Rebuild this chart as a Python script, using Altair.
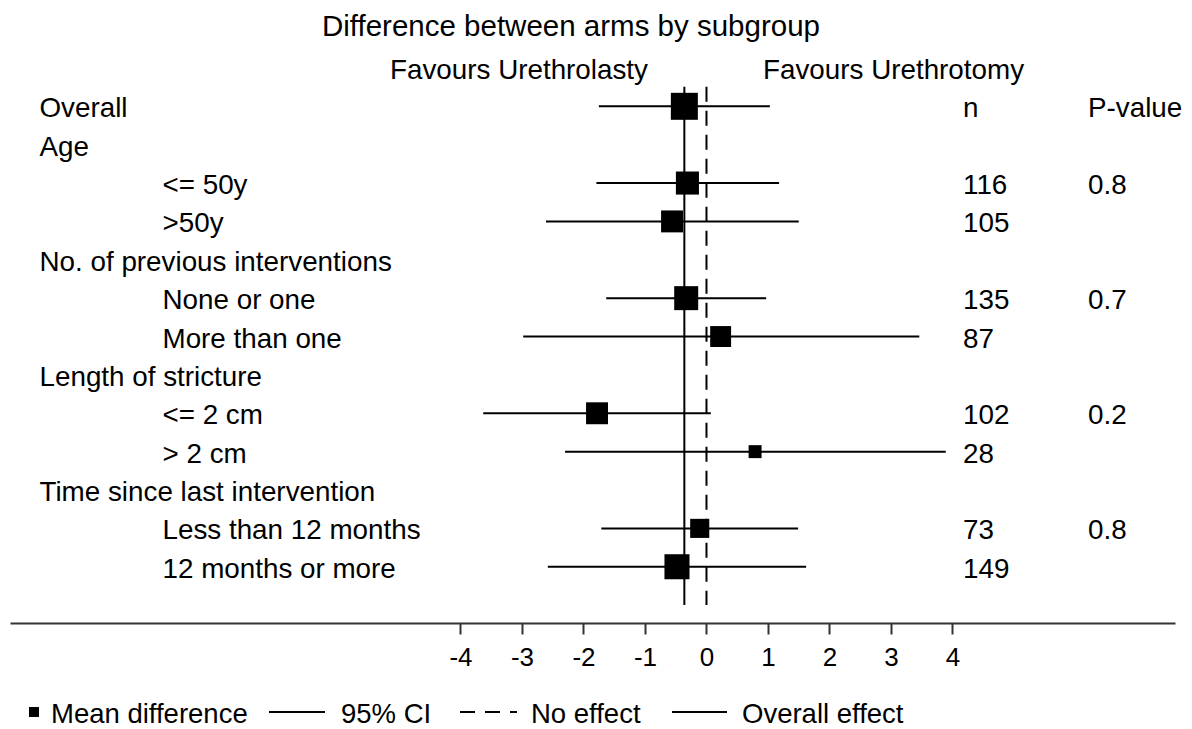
import altair as alt
import pandas as pd

# ---------------- data ----------------
labels = ["Overall", "Age", "<= 50y", ">50y", "No. of previous interventions",
          "None or one", "More than one", "Length of stricture", "<= 2 cm", "> 2 cm",
          "Time since last intervention", "Less than 12 months", "12 months or more"]
level = [0, 0, 1, 1, 0, 1, 1, 0, 1, 1, 0, 1, 1]
est = [-0.36, None, -0.31, -0.56, None, -0.33, 0.23, None, -1.78, 0.79, None, -0.11, -0.48]
lo = [-1.75, None, -1.79, -2.61, None, -1.63, -2.98, None, -3.63, -2.30, None, -1.71, -2.58]
hi = [1.03, None, 1.18, 1.50, None, 0.97, 3.46, None, 0.07, 3.89, None, 1.49, 1.62]
weight = [100, None, 73, 66, None, 79, 60, None, 66, 23, None, 50, 86]
n_col = ["n", "", "116", "105", "", "135", "87", "", "102", "28", "", "73", "149"]
p_col = ["P-value", "", "0.8", "", "", "0.7", "", "", "0.2", "", "", "0.8", ""]
overall_effect = [-0.36]
no_effect = [0]
x_ticks = [-4, -3, -2, -1, 0, 1, 2, 3, 4]
title_text = "Difference between arms by subgroup"
favours_left = "Favours Urethrolasty"
favours_right = "Favours Urethrotomy"
legend_items = ["Mean difference", "95% CI", "No effect", "Overall effect"]

df = pd.DataFrame({
    "row": list(range(len(labels))),
    "label": labels, "level": level, "est": est, "lo": lo, "hi": hi,
    "weight": weight, "n": n_col, "p": p_col,
})

FONT = "Liberation Sans"
FS = 27.8
W, H = 1165, 615

xscale = alt.Scale(domain=[-11.325, 7.618], nice=False, zero=False)
yscale = alt.Scale(domain=[-2.562, 13.466], nice=False, zero=False, reverse=True)
xaxis = alt.Axis(values=x_ticks, title=None, grid=False, domainWidth=2, domainColor="#333333",
                 tickColor="#333333", tickWidth=2, tickSize=11, labelFontSize=26, labelFont=FONT,
                 labelColor="black", labelBaseline="alphabetic", labelPadding=31,
                 labelExpr="toString(datum.value)", labelFlush=False)


def X(field):
    return alt.X(field, type="quantitative", scale=xscale, axis=xaxis)


Y = alt.Y("row:Q", scale=yscale, axis=None)

base = alt.Chart(df)
valid = base.transform_filter("isValid(datum.est)")

ci = valid.mark_rule(color="black", strokeWidth=2).encode(x=X("lo"), x2="hi", y=Y)
squares = valid.mark_square(color="black", opacity=1, filled=True).encode(
    x=X("est"), y=Y,
    size=alt.Size("weight:Q", scale=alt.Scale(domain=[0, 100], range=[0, 729]), legend=None))

overall_line = alt.Chart(pd.DataFrame({"v": overall_effect})).mark_rule(
    color="black", strokeWidth=2).encode(x=X("v"), y=alt.value(78.7), y2=alt.value(597))
null_line = alt.Chart(pd.DataFrame({"v": no_effect})).mark_rule(
    color="black", strokeWidth=2, strokeDash=[15, 9]).encode(x=X("v"), y=alt.value(78.7), y2=alt.value(597))


def txt(chart, field, xpix):
    return chart.mark_text(font=FONT, fontSize=FS, align="left", baseline="alphabetic",
                           dy=11, color="black").encode(x=alt.value(xpix), y=Y, text=f"{field}:N")


heads = txt(base.transform_filter("datum.level == 0"), "label", 29.5)
subs = txt(base.transform_filter("datum.level == 1"), "label", 152.5)
ncol = txt(base, "n", 953)
pcol = txt(base, "p", 1078)


def fixed_text(s, xpix, ypix, size=FS):
    return alt.Chart(pd.DataFrame({"t": [s]})).mark_text(
        font=FONT, fontSize=size, align="left", baseline="alphabetic", color="black"
    ).encode(x=alt.value(xpix), y=alt.value(ypix), text="t:N")


def fixed_rule(x1, x2, ypix, dash=None):
    kw = dict(color="black", strokeWidth=2)
    if dash:
        kw["strokeDash"] = dash
    return alt.Chart(pd.DataFrame({"a": [0]})).mark_rule(**kw).encode(
        x=alt.value(x1), x2=alt.value(x2), y=alt.value(ypix))


title = fixed_text(title_text, 312, 27.7, 29.5)
fav_l = fixed_text(favours_left, 380, 70.5)
fav_r = fixed_text(favours_right, 753, 70.5)

leg_sq = alt.Chart(pd.DataFrame({"a": [0]})).mark_square(
    color="black", opacity=1, filled=True, size=100).encode(x=alt.value(24), y=alt.value(704))
leg1 = fixed_text(legend_items[0], 41, 714.7, 27.5)
leg_r1 = fixed_rule(259, 315, 704)
leg2 = fixed_text(legend_items[1], 331, 714.7, 27.5)
leg_r2 = fixed_rule(450, 507, 704, [15, 10])
leg3 = fixed_text(legend_items[2], 521, 714.7, 27.5)
leg_r3 = fixed_rule(662, 717, 704)
leg4 = fixed_text(legend_items[3], 732, 714.7, 27.5)

chart = alt.layer(
    overall_line, null_line, ci, squares, heads, subs, ncol, pcol,
    title, fav_l, fav_r, leg_sq, leg1, leg_r1, leg2, leg_r2, leg3, leg_r3, leg4
).properties(
    width=W, height=H,
    autosize=alt.AutoSizeParams(type="none"),
    padding={"left": 2, "top": 0, "right": 9, "bottom": 105},
).configure(background="white").configure_view(stroke="transparent", strokeWidth=0)

chart.save("out.html", embed_options={"renderer": "svg", "actions": False})
